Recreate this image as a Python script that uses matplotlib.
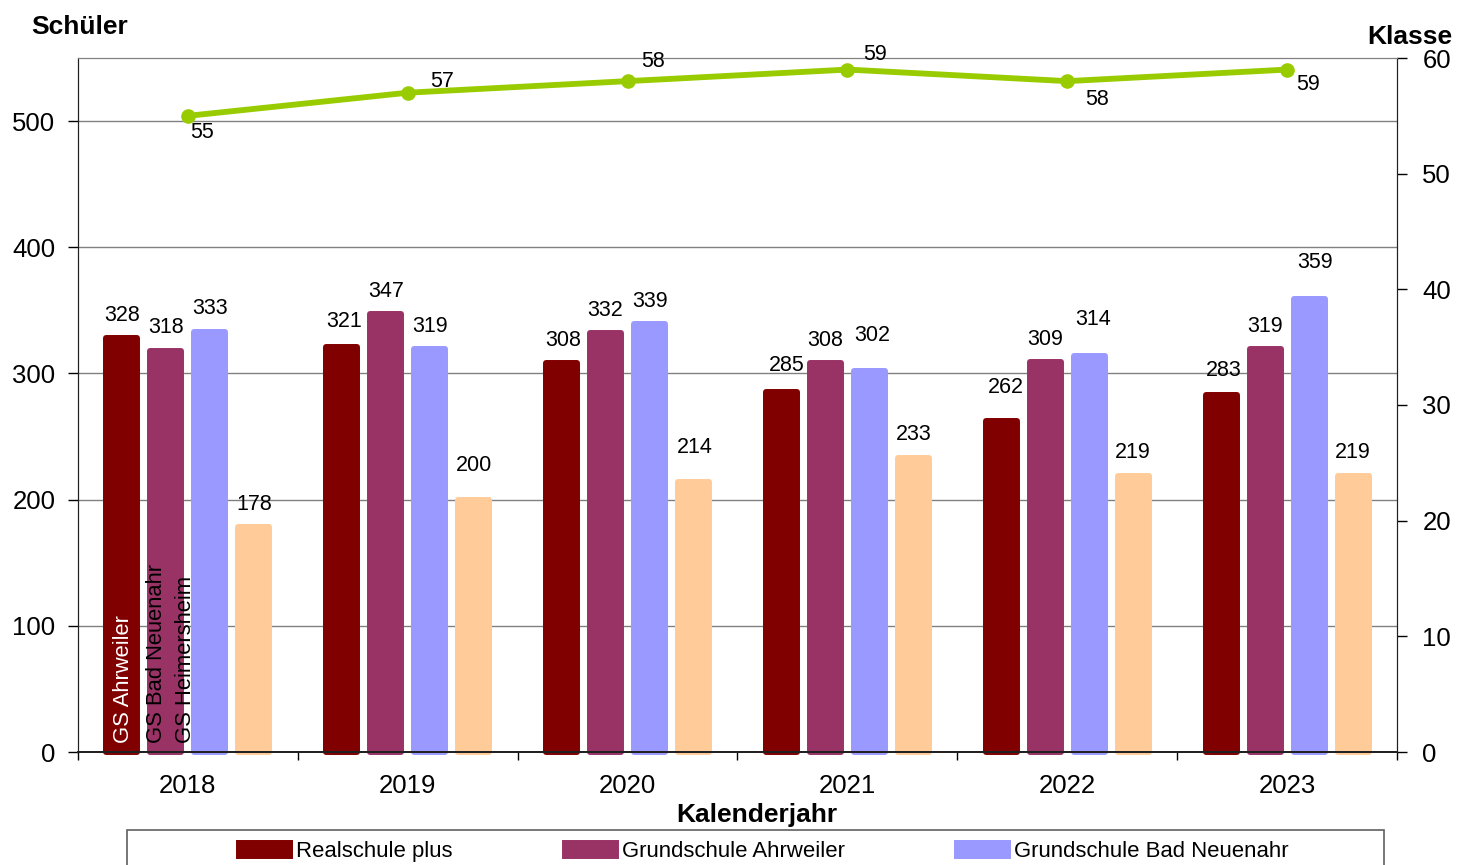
"""
Schüler und Klassen je Kalenderjahr: gruppierte Säulen + Linie auf zweiter Achse.
"""

import numpy as np
import matplotlib
matplotlib.use("Agg")
import matplotlib.pyplot as plt
from matplotlib.patches import Rectangle

plt.rcParams["font.family"] = ["Liberation Sans", "DejaVu Sans"]

# --- data ---------------------------------------------------------------
years = ["2018", "2019", "2020", "2021", "2022", "2023"]
series_names = ["Realschule plus", "Grundschule Ahrweiler",
                "Grundschule Bad Neuenahr", "Grundschule Heimersheim"]
realschule = [328, 321, 308, 285, 262, 283]
gs_ahrweiler = [318, 347, 332, 308, 309, 319]
gs_bad_neuenahr = [333, 319, 339, 302, 314, 359]
gs_heimersheim = [178, 200, 214, 233, 219, 219]
klassen = [55, 57, 58, 59, 58, 59]
inside_labels = ["GS Ahrweiler", "GS Bad Neuenahr", "GS Heimersheim"]

colors = ["#800000", "#993366", "#9999FF", "#FFCC99"]
line_color = "#99CC00"
grid_gray = "#808080"

# label nudges in pixels (dx, extra lift) where Excel moved labels apart
bar_label_nudge = {(1, 0): (2, 2), (1, 3): (0, 11), (2, 0): (2, 0), (2, 3): (1, 11),
                   (3, 0): (5, 4), (3, 2): (3, 12), (4, 0): (5, 11),
                   (4, 2): (4, 13), (5, 0): (3, 1), (5, 2): (6, 14)}
line_label_offset = [(14, -17), (34, 11), (25, 20), (28, 15), (30, -18), (21, -15)]

W, H = 1457, 865
fig = plt.figure(figsize=(W / 100, H / 100), dpi=100)
ax = fig.add_axes([78 / W, 1 - 752 / H, (1397 - 78) / W, (752 - 58) / H])
ax2 = ax.twinx()

x = np.arange(len(years))
bar_w, step = 0.141, 0.2
values = [realschule, gs_ahrweiler, gs_bad_neuenahr, gs_heimersheim]
for i, (vals, col, name) in enumerate(zip(values, colors, series_names)):
    pos = x + (i - 1.5) * step
    # thick same-colour edge with round joins gives Excel's rounded bar look
    ax.bar(pos, vals, width=bar_w, color=col, edgecolor=col, lw=4.3,
           joinstyle="round", label=name, zorder=2, clip_on=False)
    for j, (px, v) in enumerate(zip(pos, vals)):
        dx, lift = bar_label_nudge.get((j, i), (0, 0))
        ax.annotate(str(v), (px, v), xytext=(dx, 23 + lift), textcoords="offset pixels",
                    ha="center", va="center", fontsize=15.5)

# rotated series names left inside the 2018 group
for k, (txt, dx) in enumerate(zip(inside_labels, [-0.295, -0.145, -0.013])):
    ax.text(dx, 7, txt, rotation=90, ha="center", va="bottom", fontsize=15.8,
            color="white" if k == 0 else "black", zorder=3)

ax.set_xlim(-0.5, len(years) - 0.5)
ax.set_ylim(0, 550)
ax.set_yticks(np.arange(0, 501, 100))
ax.set_xticks(np.arange(-0.5, len(years), 1))
ax.set_xticklabels([])
ax.set_xticks(x, minor=True)
ax.set_xticklabels(years, minor=True)
ax.tick_params(axis="x", which="major", direction="out", length=6, width=1)
ax.tick_params(axis="x", which="minor", length=0, labelsize=18.5, pad=15.5)
ax.tick_params(axis="y", direction="out", length=7.2, width=1, labelsize=18.5, pad=9)
ax.yaxis.grid(True, color=grid_gray, lw=1)
ax.set_axisbelow(True)

ax2.plot(x, klassen, color=line_color, lw=4.2, marker="o", ms=9.5, zorder=4)
for xi, k, (dx, dy) in zip(x, klassen, line_label_offset):
    ax2.annotate(str(k), (xi, k), xytext=(dx, dy), textcoords="offset pixels",
                 ha="center", va="center", fontsize=15.5)
ax2.set_ylim(0, 60)
ax2.set_yticks(np.arange(0, 61, 10))
ax2.tick_params(axis="y", direction="out", length=7.2, width=1, labelsize=18.5, pad=11)

for a in (ax, ax2):
    a.spines["top"].set_color(grid_gray)
    a.spines["left"].set_color("#202020")
    a.spines["right"].set_color("#202020")
    a.spines["bottom"].set_color("#202020")
    a.spines["bottom"].set_linewidth(1.3)
    a.spines["bottom"].set_zorder(5)

fig.text(31 / W, 1 - 27 / H, "Schüler", fontsize=19, fontweight="bold", va="center", ha="left")
fig.text(1452 / W, 1 - 37 / H, "Klasse", fontsize=19, fontweight="bold", va="center", ha="right")
fig.text(757 / W, 1 - 815 / H, "Kalenderjahr", fontsize=19, fontweight="bold",
         va="center", ha="center")

# legend box runs past the bottom edge, only the first row shows
fig.patches.append(Rectangle((127 / W, 1 - 900 / H), (1384 - 127) / W, 70 / H,
                             transform=fig.transFigure, fill=False,
                             edgecolor="#606060", lw=1.2))
handles, labels = ax.get_legend_handles_labels()
fig.legend(handles[:3], labels[:3], loc="upper left", ncol=3, frameon=False,
           bbox_to_anchor=(239 / W, 1 - 841 / H), borderpad=0, borderaxespad=0,
           fontsize=15.9, handlelength=2.3, handleheight=0.55,
           handletextpad=0.27, columnspacing=5.1)

fig.savefig("out.png", dpi=100)
